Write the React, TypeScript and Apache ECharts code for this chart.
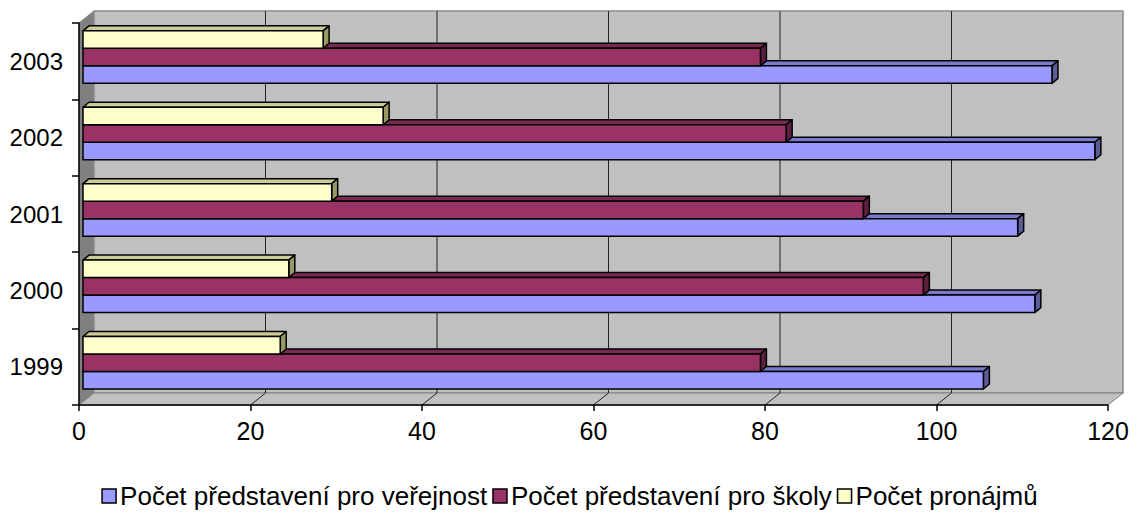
import React, { useEffect, useRef } from "react";
import * as echarts from "echarts";

const categories = ["1999", "2000", "2001", "2002", "2003"];
const publicShows = [105, 111, 109, 118, 113];
const schoolShows = [79, 98, 91, 82, 79];
const rentals = [23, 24, 29, 35, 28];
const seriesNames = [
  "Počet představení pro veřejnost",
  "Počet představení pro školy",
  "Počet pronájmů",
];
const xTickValues = [0, 20, 40, 60, 80, 100, 120];

const palettes = [
  { front: "#9999ff", top: "#7a7acc", side: "#5c5c99" },
  { front: "#993366", top: "#7a2952", side: "#5c1f3d" },
  { front: "#ffffcc", top: "#cccc99", side: "#999966" },
];

const WALL_DX = 15;
const WALL_DY = -12;
const BAR_DX = 6;
const BAR_DY = -5;
const BAR_SHIFT = 4;

function makeBarRender(slot: number) {
  const pal = palettes[slot];
  return (params: any, api: any) => {
    const v = api.value(0);
    const idx = api.value(1);
    const p0 = api.coord([0, idx]);
    const p1 = api.coord([v, idx]);
    const band = api.size([0, 1])[1];
    const h = band * 0.229;
    const bottom = p0[1] + band * 0.29 - slot * h;
    const top = bottom - h;
    const x0 = p0[0] + BAR_SHIFT;
    const x1 = p1[0] + BAR_SHIFT;
    const stroke = { stroke: "#000", lineWidth: 1.5, lineJoin: "round" };
    return {
      type: "group",
      children: [
        {
          type: "polygon",
          shape: {
            points: [
              [x0, top],
              [x0 + BAR_DX, top + BAR_DY],
              [x1 + BAR_DX, top + BAR_DY],
              [x1, top],
            ],
          },
          style: { fill: pal.top, ...stroke },
        },
        {
          type: "polygon",
          shape: {
            points: [
              [x1, top],
              [x1 + BAR_DX, top + BAR_DY],
              [x1 + BAR_DX, bottom + BAR_DY],
              [x1, bottom],
            ],
          },
          style: { fill: pal.side, ...stroke },
        },
        {
          type: "rect",
          shape: { x: x0, y: top, width: x1 - x0, height: bottom - top },
          style: { fill: pal.front, ...stroke },
        },
      ],
    };
  };
}

function wallRender(params: any, api: any) {
  const cs = params.coordSys;
  const x = cs.x;
  const y = cs.y;
  const w = cs.width;
  const h = cs.height;
  const children: any[] = [
    {
      type: "polygon",
      shape: {
        points: [
          [x, y],
          [x + WALL_DX, y + WALL_DY],
          [x + WALL_DX, y + h + WALL_DY],
          [x, y + h],
        ],
      },
      style: { fill: "#808080", stroke: "#808080", lineWidth: 1 },
    },
    {
      type: "rect",
      shape: { x: x + WALL_DX, y: y + WALL_DY, width: w, height: h },
      style: { fill: "#c0c0c0", stroke: "#8c8c8c", lineWidth: 1.5 },
    },
    {
      type: "polygon",
      shape: {
        points: [
          [x, y + h],
          [x + WALL_DX, y + h + WALL_DY],
          [x + w + WALL_DX, y + h + WALL_DY],
          [x + w, y + h],
        ],
      },
      style: { fill: "#c0c0c0", stroke: "#808080", lineWidth: 1 },
    },
  ];
  xTickValues.forEach((t) => {
    if (t === 0 || t === xTickValues[xTickValues.length - 1]) return;
    const px = api.coord([t, 0])[0];
    children.push({
      type: "line",
      shape: { x1: px + WALL_DX, y1: y + WALL_DY, x2: px + WALL_DX, y2: y + h + WALL_DY },
      style: { stroke: "#222", lineWidth: 1 },
    });
    children.push({
      type: "line",
      shape: { x1: px, y1: y + h, x2: px + WALL_DX, y2: y + h + WALL_DY },
      style: { stroke: "#222", lineWidth: 1 },
    });
  });
  return { type: "group", children };
}

const valueSets = [publicShows, schoolShows, rentals];

export default function App() {
  const ref = useRef<HTMLDivElement>(null);
  useEffect(() => {
    document.body.style.margin = "0";
    const chart = echarts.init(ref.current!, null, { renderer: "svg" });
    const font = "'Liberation Sans', Arial, sans-serif";
    chart.setOption({
      animation: false,
      backgroundColor: "#ffffff",
      textStyle: { fontFamily: font },
      grid: { left: 79, right: 31, top: 23, bottom: 119, containLabel: false },
      legend: {
        data: seriesNames,
        left: "center",
        top: 478,
        icon: "rect",
        itemWidth: 14,
        itemHeight: 14,
        itemGap: 5,
        itemStyle: { borderColor: "#000", borderWidth: 1.5 },
        textStyle: { fontSize: 26, color: "#000", fontFamily: font, padding: [0, 0, 0, -1] },
        selectedMode: false,
      },
      xAxis: {
        type: "value",
        min: xTickValues[0],
        max: xTickValues[xTickValues.length - 1],
        interval: 20,
        z: 10,
        axisLine: { show: true, lineStyle: { color: "#000", width: 1.5 } },
        axisTick: { show: true, length: 6, lineStyle: { color: "#000", width: 1.5 } },
        splitLine: { show: false },
        axisLabel: { fontSize: 25, color: "#000", margin: 13, fontFamily: font },
      },
      yAxis: {
        type: "category",
        data: categories,
        z: 10,
        axisLine: { show: true, lineStyle: { color: "#000", width: 1.5 } },
        axisTick: { show: true, length: 7, alignWithLabel: false, lineStyle: { color: "#000", width: 1.5 } },
        axisLabel: { fontSize: 24, color: "#000", margin: 16, fontFamily: font, padding: [0, 0, 4, 0] },
        splitLine: { show: false },
      },
      series: [
        {
          type: "custom",
          name: "walls",
          z: 1,
          silent: true,
          renderItem: wallRender,
          data: [[0, 0]],
          encode: { x: 0, y: 1 },
        },
        ...valueSets.map((vals, slot) => ({
          type: "custom",
          name: seriesNames[slot],
          z: 3 + slot,
          renderItem: makeBarRender(slot),
          itemStyle: { color: palettes[slot].front, borderColor: "#000", borderWidth: 1.5 },
          data: vals.map((v, i) => [v, i]),
          encode: { x: 0, y: 1 },
        })),
      ],
    });
    return () => chart.dispose();
  }, []);
  return (
    <div
      ref={ref}
      style={{ position: "absolute", left: 0, top: 0, width: 1139, height: 524 }}
    />
  );
}
